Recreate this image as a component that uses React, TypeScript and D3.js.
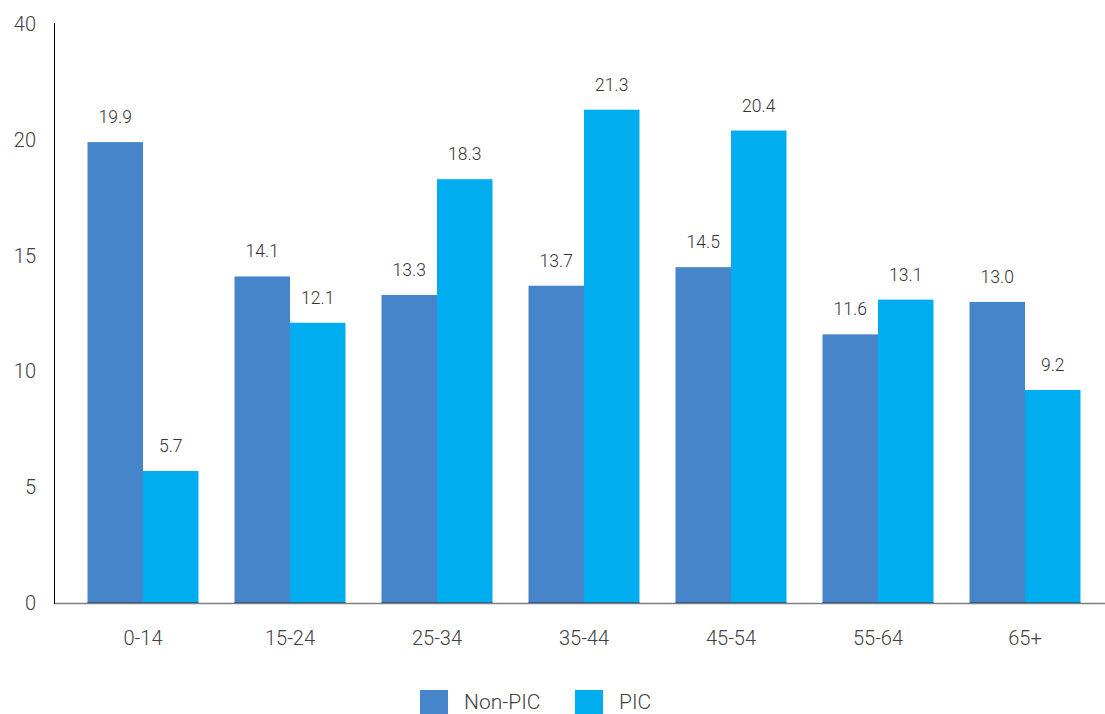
import React from "react";
import * as d3 from "d3";

const categories = ["0-14", "15-24", "25-34", "35-44", "45-54", "55-64", "65+"];
const nonPic = [19.9, 14.1, 13.3, 13.7, 14.5, 11.6, 13.0];
const pic = [5.7, 12.1, 18.3, 21.3, 20.4, 13.1, 9.2];
const seriesNames = ["Non-PIC", "PIC"];
const seriesColors = ["#4785CB", "#00AEEF"];
const seriesDark = ["#1F4F86", "#0A5F8A"];
const tickValues = [0, 5, 10, 15, 20, 25];
const tickLabels = ["0", "5", "10", "15", "20", "40"];

const W = 1105;
const H = 714;
const font = "Roboto, 'Helvetica Neue', Arial, sans-serif";

export default function App() {
  const x = d3
    .scaleBand<string>()
    .domain(categories)
    .range([69.5, 1098.5])
    .paddingInner(0.245)
    .paddingOuter(0.1225);
  const x1 = d3.scaleBand<string>().domain(seriesNames).range([0, x.bandwidth()]);
  const y = d3.scaleLinear().domain([0, 25]).range([603, 24]);
  const data = [nonPic, pic];

  return (
    <svg
      width={W}
      height={H}
      style={{ position: "absolute", left: 0, top: 0, background: "#fff" }}
    >
      {/* y ticks */}
      {tickValues.map((t, i) => (
        <text
          key={t}
          x={36}
          y={y(t)}
          dy="0.35em"
          textAnchor="end"
          fontFamily={font}
          fontWeight={300}
          fontSize={20}
          fill="#404040"
        >
          {tickLabels[i]}
        </text>
      ))}
      {/* bars */}
      {categories.map((c, ci) => (
        <g key={c} transform={`translate(${x(c)},0)`}>
          {seriesNames.map((s, si) => {
            const v = data[si][ci];
            const bx = x1(s)!;
            const bw = x1.bandwidth();
            return (
              <g key={s}>
                <rect x={bx} y={y(v)} width={bw} height={y(0) - y(v)} fill={seriesColors[si]} />
                <rect x={bx} y={y(0) - 1} width={bw} height={2} fill={seriesDark[si]} />
                <text
                  x={bx + bw / 2}
                  y={y(v) - 19}
                  textAnchor="middle"
                  fontFamily={font}
                  fontWeight={300}
                  fontSize={17.5}
                  fill="#333"
                >
                  {v.toFixed(1)}
                </text>
              </g>
            );
          })}
          <text
            x={x.bandwidth() / 2}
            y={645}
            textAnchor="middle"
            fontFamily={font}
            fontWeight={300}
            fontSize={20}
            fill="#404040"
          >
            {c}
          </text>
        </g>
      ))}
      {/* axes */}
      <line x1={54} x2={1105} y1={603.5} y2={603.5} stroke="#808080" strokeWidth={1.3} />
      <line x1={54.5} x2={54.5} y1={23} y2={604} stroke="#000" strokeWidth={1} />
      {/* legend */}
      {seriesNames.map((s, i) => {
        const lx = i === 0 ? 420 : 575;
        return (
          <g key={s}>
            <rect x={lx} y={690} width={28} height={24} fill={seriesColors[i]} />
            <text
              x={lx + 44}
              y={702}
              dy="0.35em"
              fontFamily={font}
              fontWeight={300}
              fontSize={21}
              fill="#404040"
            >
              {s}
            </text>
          </g>
        );
      })}
    </svg>
  );
}
